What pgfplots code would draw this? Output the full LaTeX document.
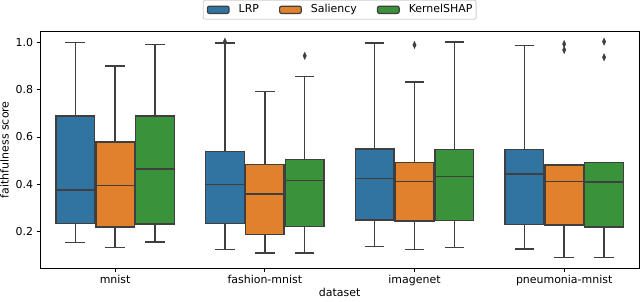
\documentclass[border=0pt]{standalone}
\usepackage{fontspec}
\setmainfont{DejaVu Sans}
\usepackage{pgfplots}
\pgfplotsset{compat=1.18}
\usepgfplotslibrary{statistics}
\definecolor{cLRP}{HTML}{3274A1}
\definecolor{cSal}{HTML}{E1812C}
\definecolor{cKS}{HTML}{3A923A}
\definecolor{edge}{HTML}{3F3F3F}
\newcommand{\fs}{\fontsize{11}{13.2}\selectfont}
% pos, color, lw, lq, med, uq, uw, data
\newcommand{\bp}[8]{%
\addplot[forget plot, fill=#2, draw=edge, line width=1.4bp,
  mark=diamond*, mark size=3.6bp, mark options={fill=edge, draw=edge, line width=0.4bp, xscale=0.62, solid},
  boxplot/every whisker/.style={line width=1.4bp, draw=edge},
  boxplot/every median/.style={line width=1.5bp, draw=edge},
  boxplot/every box/.style={line width=1.4bp, draw=edge, fill=#2},
  boxplot prepared={draw position=#1, lower whisker=#3, lower quartile=#4, median=#5,
    upper quartile=#6, upper whisker=#7, box extend=0.258, whisker extend=0.13}] #8;
}
\begin{document}
\begin{tikzpicture}
\begin{axis}[
  boxplot/draw direction=y,
  scale only axis, width=598.7bp, height=237.3bp,
  xmin=-0.5, xmax=3.5, ymin=0.045, ymax=1.048,
  xtick={0,1,2,3}, xticklabels={mnist, fashion-mnist, imagenet, pneumonia-mnist},
  ytick={0.2,0.4,0.6,0.8,1.0},
  yticklabel style={/pgf/number format/.cd, fixed, fixed zerofill, precision=1},
  /pgf/number format/assume math mode=true,
  tick align=outside, tick pos=left, major tick length=3.7bp,
  axis line style={line width=0.85bp, black},
  every tick/.style={line width=0.85bp, black},
  ticklabel style={font=\fs},
  label style={font=\fs},
  xlabel={dataset}, ylabel={faithfulness score},
  xlabel style={yshift=5bp},
  legend columns=3,
  legend style={at={(0.5,1.0476)}, anchor=south, draw=black!20, line width=0.8bp,
    rounded corners=2bp, fill=white, font=\fs,
    inner xsep=3.6bp, inner ysep=2.9bp,
    nodes={inner xsep=0bp, inner ysep=1.5bp, text height=7.7bp, text depth=2.5bp},
    /tikz/every odd column/.append style={column sep=9bp},
    /tikz/every even column/.append style={column sep=20bp}},
  legend image code/.code={\draw[#1, line width=1.2bp] (0bp,-3.65bp) rectangle (21.7bp,3.65bp);},
]
\addlegendimage{fill=cLRP, draw=edge}\addlegendentry{LRP}
\addlegendimage{fill=cSal, draw=edge}\addlegendentry{Saliency}
\addlegendimage{fill=cKS, draw=edge}\addlegendentry{KernelSHAP}
% mnist
\bp{-0.2667}{cLRP}{0.154}{0.235}{0.376}{0.689}{1.000}{coordinates {}}
\bp{0}{cSal}{0.132}{0.219}{0.396}{0.579}{0.900}{coordinates {}}
\bp{0.2667}{cKS}{0.156}{0.233}{0.465}{0.689}{0.990}{coordinates {}}
% fashion-mnist
\bp{0.7333}{cLRP}{0.124}{0.235}{0.399}{0.538}{0.998}{table[row sep=\\, y index=0]{y\\1.003\\}}
\bp{1}{cSal}{0.109}{0.187}{0.358}{0.485}{0.793}{coordinates {}}
\bp{1.2667}{cKS}{0.109}{0.221}{0.417}{0.504}{0.856}{table[row sep=\\, y index=0]{y\\0.943\\}}
% imagenet
\bp{1.7333}{cLRP}{0.137}{0.249}{0.424}{0.549}{0.997}{coordinates {}}
\bp{2}{cSal}{0.124}{0.245}{0.411}{0.491}{0.832}{table[row sep=\\, y index=0]{y\\0.989\\}}
\bp{2.2667}{cKS}{0.132}{0.248}{0.432}{0.548}{1.001}{coordinates {}}
% pneumonia-mnist
\bp{2.7333}{cLRP}{0.127}{0.231}{0.444}{0.548}{0.986}{coordinates {}}
\bp{3}{cSal}{0.090}{0.228}{0.411}{0.482}{0.482}{table[row sep=\\, y index=0]{y\\0.993\\0.968\\}}
\bp{3.2667}{cKS}{0.090}{0.219}{0.410}{0.491}{0.491}{table[row sep=\\, y index=0]{y\\1.003\\0.937\\}}
\coordinate (bl) at (rel axis cs:0,0);
\coordinate (tr) at (rel axis cs:1,1);
\end{axis}
\pgfresetboundingbox
\useasboundingbox ([shift={(-40.3bp,-32.7bp)}]bl) rectangle ([shift={(1bp,31bp)}]tr);
\end{tikzpicture}
\end{document}
